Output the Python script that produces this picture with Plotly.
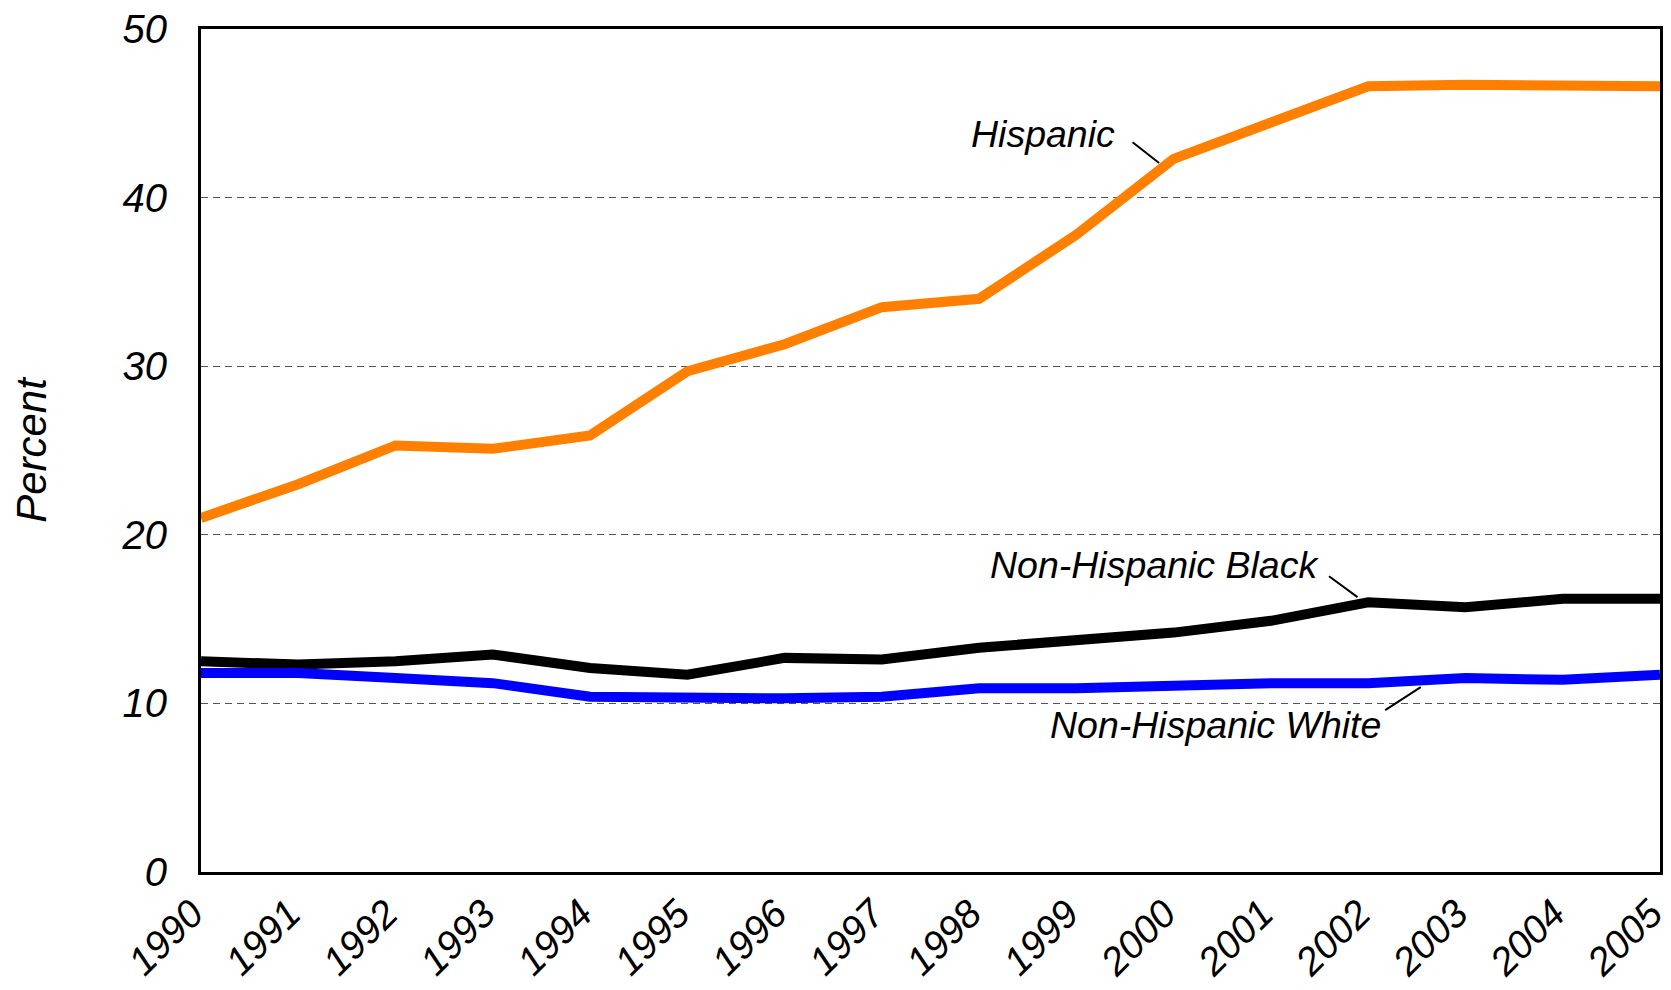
import plotly.graph_objects as go

years = list(range(1990, 2006))
year_labels = [str(y) for y in years]
hispanic = [21.0, 23.0, 25.3, 25.1, 25.9, 29.7, 31.3, 33.5, 34.0, 37.8, 42.3, 44.4, 46.6, 46.7, 46.7, 46.6]
nh_black = [12.5, 12.3, 12.5, 12.9, 12.1, 11.7, 12.7, 12.6, 13.3, 13.7, 14.2, 14.9, 16.0, 15.7, 16.2, 16.2]
nh_white = [11.8, 11.8, 11.5, 11.2, 10.4, 10.3, 10.3, 10.4, 10.9, 10.9, 11.1, 11.2, 11.2, 11.5, 11.4, 11.7]
y_ticks = [0, 10, 20, 30, 40, 50]

FONT = "Arial, 'Liberation Sans', sans-serif"

fig = go.Figure()
fig.add_trace(go.Scatter(x=years, y=hispanic, mode="lines", name="Hispanic",
                         line=dict(color="#FF8000", width=10)))
fig.add_trace(go.Scatter(x=years, y=nh_black, mode="lines", name="Non-Hispanic Black",
                         line=dict(color="#000000", width=10)))
fig.add_trace(go.Scatter(x=years, y=nh_white, mode="lines", name="Non-Hispanic White",
                         line=dict(color="#0000FF", width=10)))

lab_font = dict(family=FONT, size=37.5, color="black", style="italic")

annotations = [
    # labels
    dict(x=1999.42, y=43.8, xref="x", yref="y", text="Hispanic", showarrow=False,
         xanchor="right", yanchor="middle", font=lab_font),
    dict(x=2001.51, y=18.2, xref="x", yref="y", text="Non-Hispanic Black", showarrow=False,
         xanchor="right", yanchor="middle", font=lab_font),
    dict(x=2002.15, y=8.7, xref="x", yref="y", text="Non-Hispanic White", showarrow=False,
         xanchor="right", yanchor="middle", font=lab_font),
    # leader lines
    dict(x=1999.85, y=42.05, xref="x", yref="y", text="", showarrow=True, arrowhead=0,
         arrowwidth=2, arrowcolor="black", ax=-28, ay=-22),
    dict(x=2001.89, y=16.3, xref="x", yref="y", text="", showarrow=True, arrowhead=0,
         arrowwidth=2, arrowcolor="black", ax=-30, ay=-22),
    dict(x=2002.54, y=10.97, xref="x", yref="y", text="", showarrow=True, arrowhead=0,
         arrowwidth=2, arrowcolor="black", ax=-37, ay=24),
]

fig.update_layout(
    width=1663, height=982,
    margin=dict(l=193, r=11, t=21, b=118, autoexpand=False),
    paper_bgcolor="white", plot_bgcolor="white",
    showlegend=False,
    annotations=annotations,
    xaxis=dict(
        range=[1990, 2005], tickmode="array", tickvals=years, ticktext=year_labels,
        tickangle=-45, showgrid=False, zeroline=False, automargin=False,
        showline=True, linecolor="black", linewidth=3, mirror=True,
        ticks="", ticklabeloverflow="allow", ticklabelshift=-9,
        tickfont=dict(family=FONT, size=39, color="black", style="italic"),
    ),
    yaxis=dict(
        range=[0, 50], tickmode="array", tickvals=y_ticks, automargin=False,
        showgrid=True, gridcolor="#555555", gridwidth=1, griddash="7px,5px",
        zeroline=False, showline=True, linecolor="black", linewidth=3, mirror=True,
        ticks="", ticklabelstandoff=23, ticklabeloverflow="allow",
        tickfont=dict(family=FONT, size=40, color="black", style="italic"),
        title=dict(text="Percent", standoff=74,
                   font=dict(family=FONT, size=42, color="black", style="italic")),
    ),
)

fig.write_html("out.html")
